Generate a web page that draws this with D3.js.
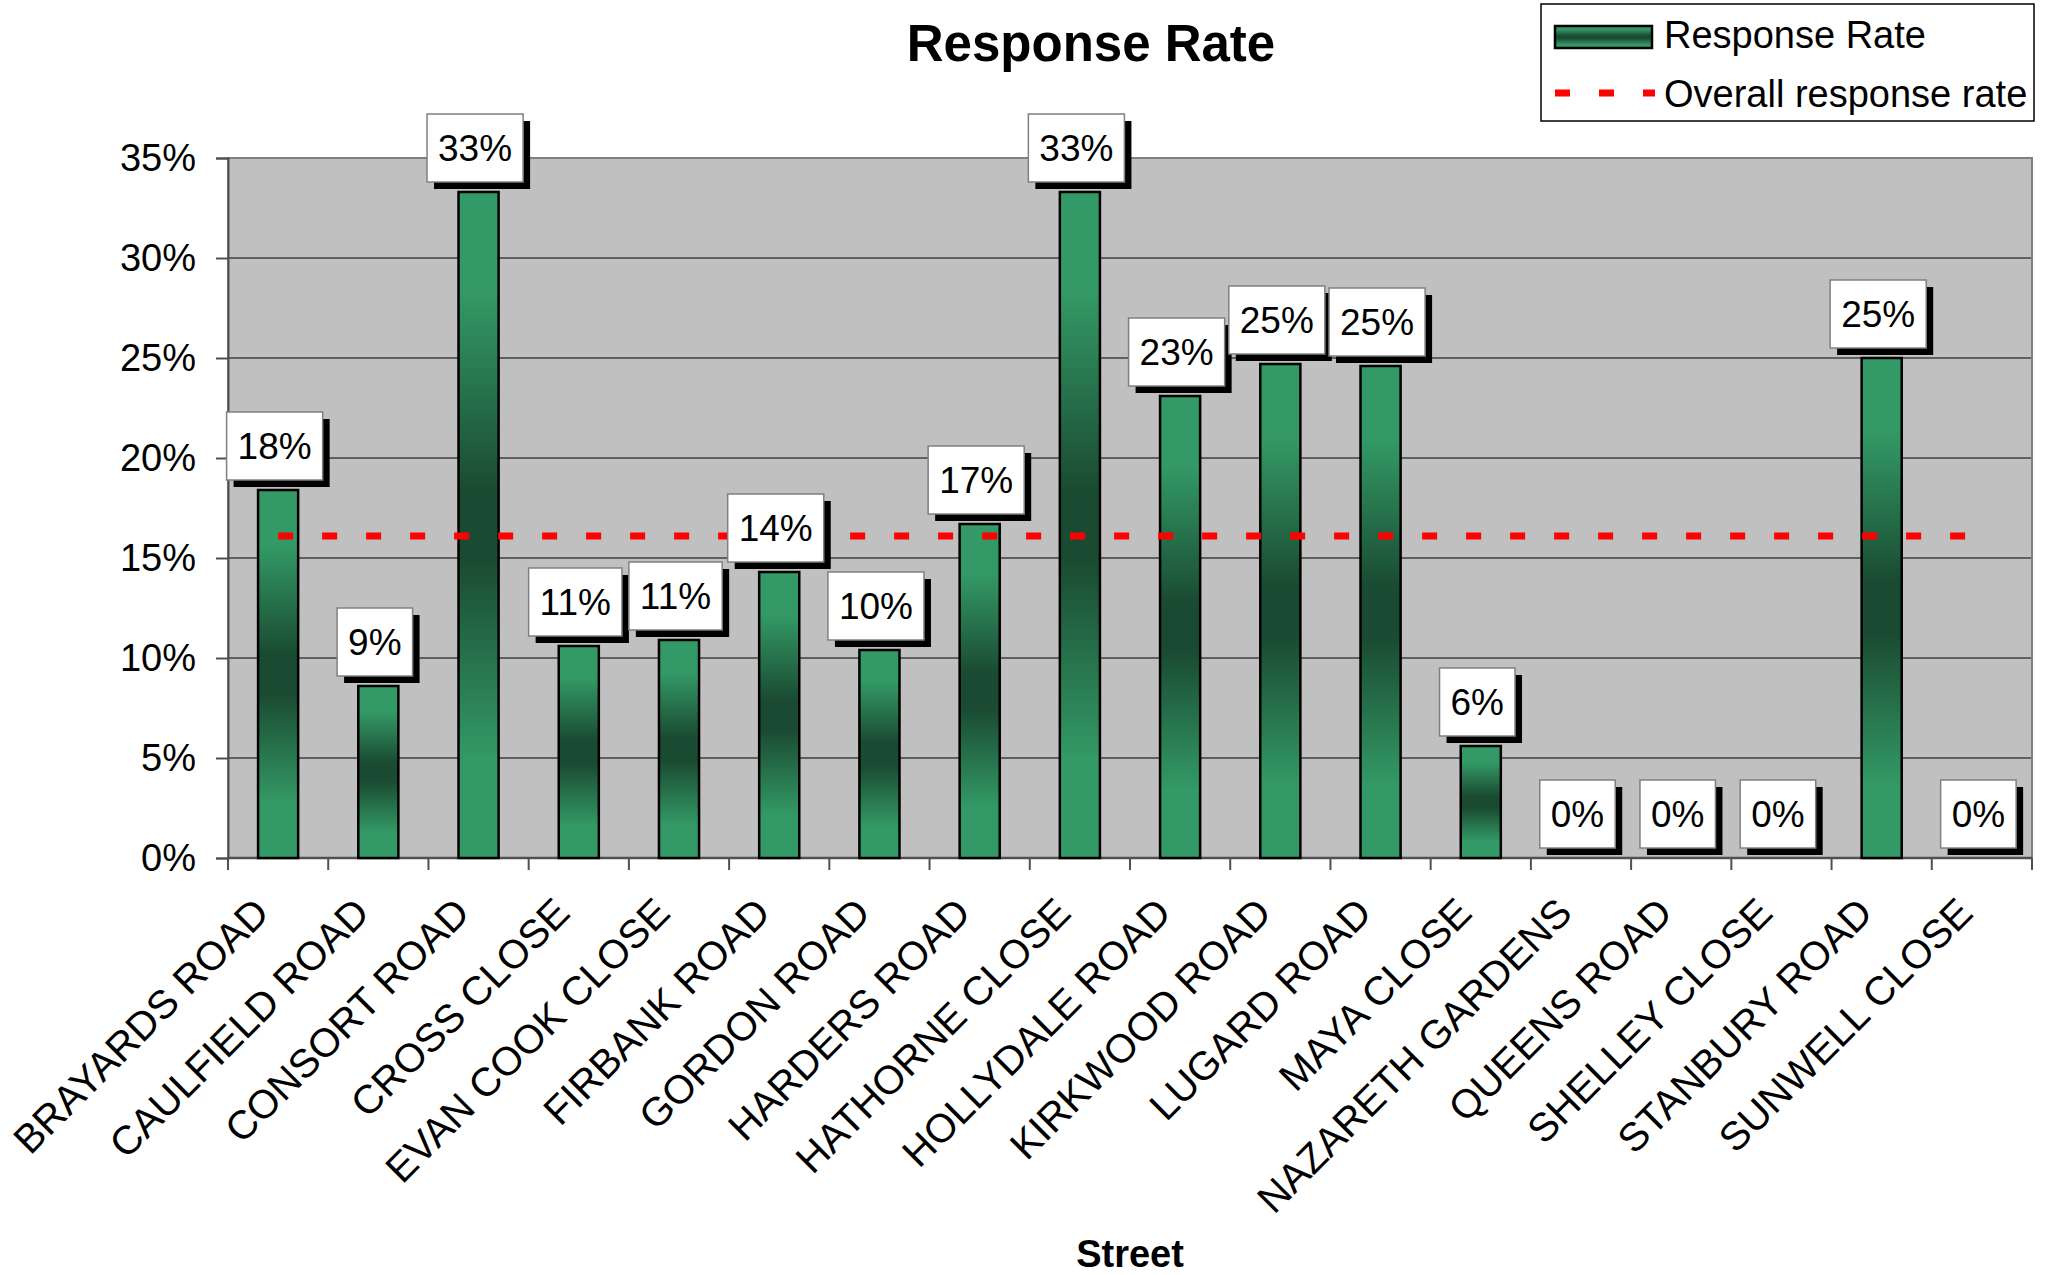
<!DOCTYPE html>
<html>
<head>
<meta charset="utf-8">
<script src="https://cdn.jsdelivr.net/npm/d3@7"></script>
<style>
  body { margin: 0; background: #fff; }
  text { font-family: "Liberation Sans", Arial, sans-serif; }
</style>
</head>
<body>
<div id="chart-area"></div>
<script>
// values
const streets = [
  "BRAYARDS ROAD", "CAULFIELD ROAD", "CONSORT ROAD", "CROSS CLOSE", "EVAN COOK CLOSE",
  "FIRBANK ROAD", "GORDON ROAD", "HARDERS ROAD", "HATHORNE CLOSE", "HOLLYDALE ROAD",
  "KIRKWOOD ROAD", "LUGARD ROAD", "MAYA CLOSE", "NAZARETH GARDENS", "QUEENS ROAD",
  "SHELLEY CLOSE", "STANBURY ROAD", "SUNWELL CLOSE"
]
const responseRates = [
  0.184, 0.086, 0.333, 0.106, 0.109,
  0.143, 0.104, 0.167, 0.333, 0.231,
  0.247, 0.246, 0.056, 0, 0,
  0, 0.25, 0
]
const overallRate = 0.161
const yTicks = [0, 0.05, 0.10, 0.15, 0.20, 0.25, 0.30, 0.35]
const legendLabels = ["Response Rate", "Overall response rate"]

class ResponseChart {
  constructor(_parentElement) {
    this.parentElement = _parentElement
    this.initVis()
  }

  initVis() {
    const vis = this

    vis.SVG_W = 2048
    vis.SVG_H = 1275
    vis.PLOT = { LEFT: 228, RIGHT: 2032, TOP: 158, BOTTOM: 858 }

    vis.svg = d3.select(vis.parentElement)
      .append("svg")
      .attr("width", vis.SVG_W)
      .attr("height", vis.SVG_H)

    vis.svg.append("rect")
      .attr("width", vis.SVG_W)
      .attr("height", vis.SVG_H)
      .attr("fill", "#fff")

    // gradient: light at the ends, dark in the middle
    const defs = vis.svg.append("defs")
    const grad = defs.append("linearGradient")
      .attr("id", "barGrad")
      .attr("x1", 0).attr("y1", 0).attr("x2", 0).attr("y2", 1)
    const stops = [[0, "#339966"], [0.15, "#339966"], [0.45, "#1a4a31"], [0.55, "#1a4a31"], [0.85, "#339966"], [1, "#339966"]]
    stops.forEach(s => grad.append("stop").attr("offset", s[0]).attr("stop-color", s[1]))

    vis.x = d3.scaleBand()
      .domain(streets)
      .range([vis.PLOT.LEFT, vis.PLOT.RIGHT])
      .paddingInner(0.6)
      .paddingOuter(0.3)
    vis.xOuter = d3.scaleBand()
      .domain(streets)
      .range([vis.PLOT.LEFT, vis.PLOT.RIGHT])
      .padding(0)

    vis.y = d3.scaleLinear()
      .domain([0, 0.35])
      .range([vis.PLOT.BOTTOM, vis.PLOT.TOP])

    vis.g = vis.svg.append("g")

    // plot background
    vis.g.append("rect")
      .attr("x", vis.PLOT.LEFT)
      .attr("y", vis.PLOT.TOP)
      .attr("width", vis.PLOT.RIGHT - vis.PLOT.LEFT)
      .attr("height", vis.PLOT.BOTTOM - vis.PLOT.TOP)
      .attr("fill", "#c0c0c0")

    // gridlines
    vis.g.append("g")
      .selectAll("line")
      .data(yTicks.filter(d => d > 0 && d < 0.35))
      .join("line")
      .attr("x1", vis.PLOT.LEFT)
      .attr("x2", vis.PLOT.RIGHT)
      .attr("y1", d => vis.y(d))
      .attr("y2", d => vis.y(d))
      .attr("stroke", "#000")
      .attr("stroke-width", 1.2)

    vis.g.append("rect")
      .attr("x", vis.PLOT.LEFT)
      .attr("y", vis.PLOT.TOP)
      .attr("width", vis.PLOT.RIGHT - vis.PLOT.LEFT)
      .attr("height", vis.PLOT.BOTTOM - vis.PLOT.TOP)
      .attr("fill", "none")
      .attr("stroke", "#808080")
      .attr("stroke-width", 2)

    // y axis
    vis.yAxisCall = d3.axisLeft(vis.y)
      .tickValues(yTicks)
      .tickFormat(d3.format(".0%"))
      .tickSize(12)
      .tickPadding(20)
    vis.yAxis = vis.g.append("g")
      .attr("transform", `translate(${vis.PLOT.LEFT}, 0)`)
      .call(vis.yAxisCall)
    vis.yAxis.select(".domain").attr("stroke", "#505050").attr("stroke-width", 2)
    vis.yAxis.selectAll(".tick line").attr("stroke", "#505050").attr("stroke-width", 2)
    vis.yAxis.selectAll("text")
      .attr("font-size", "38px")
      .attr("fill", "#000")
      .attr("font-family", "Liberation Sans, Arial, sans-serif")

    // x axis line + ticks at category boundaries
    vis.g.append("line")
      .attr("x1", vis.PLOT.LEFT)
      .attr("x2", vis.PLOT.RIGHT)
      .attr("y1", vis.PLOT.BOTTOM)
      .attr("y2", vis.PLOT.BOTTOM)
      .attr("stroke", "#505050")
      .attr("stroke-width", 2.5)
    const bounds = streets.map(d => vis.xOuter(d)).concat([vis.PLOT.RIGHT])
    vis.g.append("g")
      .selectAll("line")
      .data(bounds)
      .join("line")
      .attr("x1", d => d)
      .attr("x2", d => d)
      .attr("y1", vis.PLOT.BOTTOM)
      .attr("y2", vis.PLOT.BOTTOM + 12)
      .attr("stroke", "#505050")
      .attr("stroke-width", 2)

    // x labels, rotated
    vis.g.append("g")
      .selectAll("text")
      .data(streets)
      .join("text")
      .attr("transform", d => `translate(${vis.x(d) + vis.x.bandwidth() / 2 - 27}, ${vis.PLOT.BOTTOM + 37}) rotate(-45)`)
      .attr("text-anchor", "end")
      .attr("dy", "0.71em")
      .attr("font-size", "40px")
      .text(d => d)

    // titles
    vis.svg.append("text")
      .attr("x", 1091)
      .attr("y", 61)
      .attr("text-anchor", "middle")
      .attr("font-size", "51px")
      .attr("font-weight", "bold")
      .text("Response Rate")

    vis.svg.append("text")
      .attr("x", (vis.PLOT.LEFT + vis.PLOT.RIGHT) / 2)
      .attr("y", 1267)
      .attr("text-anchor", "middle")
      .attr("font-size", "38px")
      .attr("font-weight", "bold")
      .text("Street")

    vis.barGroup = vis.g.append("g")
    vis.lineGroup = vis.g.append("g")
    vis.labelGroup = vis.g.append("g")

    vis.drawLegend()
    vis.updateVis()
  }

  updateVis() {
    const vis = this
    const data = streets.map((s, i) => ({ street: s, rate: responseRates[i] }))

    vis.barGroup.selectAll("rect")
      .data(data.filter(d => d.rate > 0))
      .join("rect")
      .attr("x", d => vis.x(d.street))
      .attr("y", d => vis.y(d.rate))
      .attr("width", vis.x.bandwidth())
      .attr("height", d => vis.y(0) - vis.y(d.rate))
      .attr("fill", "url(#barGrad)")
      .attr("stroke", "#000")
      .attr("stroke-width", 2.5)

    // overall rate line, first centre to last centre
    const first = streets[0], last = streets[streets.length - 1]
    vis.lineGroup.append("line")
      .attr("x1", vis.x(first) + vis.x.bandwidth() / 2)
      .attr("x2", vis.x(last) + vis.x.bandwidth() / 2)
      .attr("y1", vis.y(overallRate))
      .attr("y2", vis.y(overallRate))
      .attr("stroke", "#ff0000")
      .attr("stroke-width", 7)
      .attr("stroke-dasharray", "15,29")

    // data labels: white box with black drop shadow
    const fmt = d3.format(".0%")
    const labels = vis.labelGroup.selectAll("g")
      .data(data)
      .join("g")

    labels.each(function (d) {
      const g = d3.select(this)
      const cx = vis.x(d.street) + vis.x.bandwidth() / 2
      const bottom = vis.y(d.rate) - 10
      const txt = g.append("text")
        .attr("font-size", "37px")
        .attr("text-anchor", "middle")
        .text(fmt(d.rate))
      const w = txt.node().getComputedTextLength() + 22
      const h = 68
      const bx = cx - 3.5 - w / 2
      g.insert("rect", "text")
        .attr("x", bx + 7).attr("y", bottom - h + 7)
        .attr("width", w).attr("height", h)
        .attr("fill", "#000")
      g.insert("rect", "text")
        .attr("x", bx).attr("y", bottom - h)
        .attr("width", w).attr("height", h)
        .attr("fill", "#fff")
        .attr("stroke", "#808080")
        .attr("stroke-width", 1.5)
      txt.attr("x", bx + w / 2).attr("y", bottom - h / 2 + 13)
    })
  }

  drawLegend() {
    const vis = this
    const lg = vis.svg.append("g")

    lg.append("rect")
      .attr("x", 1541).attr("y", 4)
      .attr("width", 493).attr("height", 117)
      .attr("fill", "#fff")
      .attr("stroke", "#000")
      .attr("stroke-width", 1.5)

    lg.append("rect")
      .attr("x", 1555).attr("y", 26)
      .attr("width", 97).attr("height", 22)
      .attr("fill", "url(#barGrad)")
      .attr("stroke", "#000")
      .attr("stroke-width", 2.5)

    lg.append("line")
      .attr("x1", 1555).attr("x2", 1655)
      .attr("y1", 93).attr("y2", 93)
      .attr("stroke", "#ff0000")
      .attr("stroke-width", 7)
      .attr("stroke-dasharray", "15,29")

    lg.selectAll(".legend-text")
      .data(legendLabels)
      .join("text")
      .attr("class", "legend-text")
      .attr("x", 1664)
      .attr("y", (d, i) => 48 + i * 59)
      .attr("font-size", "38px")
      .text(d => d)
  }
}

new ResponseChart("#chart-area")
</script>
</body>
</html>
